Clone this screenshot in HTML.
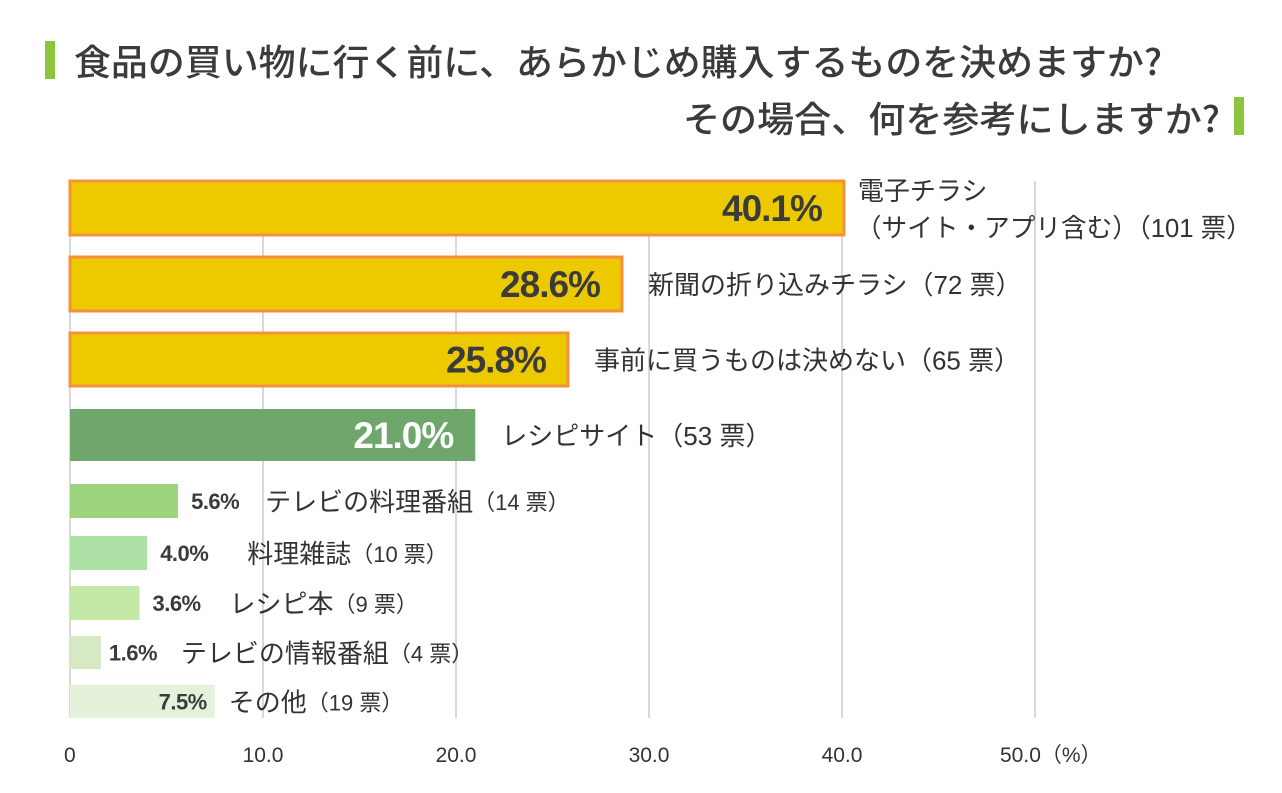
<!DOCTYPE html>
<html><head><meta charset="utf-8"><style>
html,body{margin:0;padding:0;background:#fff;}
svg{display:block;font-family:"Liberation Sans","Noto Sans CJK JP",sans-serif;}
</style></head><body>
<svg id="chart" width="1282" height="793">
<rect x="45" y="41" width="10" height="38" fill="#8cc63f"/>
<text x="74" y="75" font-size="36" font-weight="500" fill="#3b3b3b" textLength="1088" lengthAdjust="spacingAndGlyphs" font-family="Noto Sans CJK JP, sans-serif">食品の買い物に行く前に、あらかじめ購入するものを決めますか?</text>
<text x="683" y="132" font-size="36" font-weight="500" fill="#3b3b3b" textLength="537" lengthAdjust="spacingAndGlyphs" font-family="Noto Sans CJK JP, sans-serif">その場合、何を参考にしますか?</text>
<rect x="1234" y="97" width="10" height="38" fill="#8cc63f"/>
<g id="grid"></g><g id="bars"></g><g id="xaxis"></g>
</svg>
<script>
const categories=["電子チラシ","新聞の折り込みチラシ","事前に買うものは決めない","レシピサイト","テレビの料理番組","料理雑誌","レシピ本","テレビの情報番組","その他"];
const values=[40.1,28.6,25.8,21.0,5.6,4.0,3.6,1.6,7.5];
const votes=[101,72,65,53,14,10,9,4,19];
const ticks=[0,10,20,30,40,50];
const tickLabels=["0","10.0","20.0","30.0","40.0","50.0（%）"];
const x0=70,pxPer=19.3;
const X=v=>x0+v*pxPer;
const rowsTop=[181,257,333,409,484,536,586,636,685];
const rowsH=[54,54,53,52,34,34,34,33,33];
const fills=["#edca00","#edca00","#edca00","#6fa66b","#9ed47d","#aee1a6","#c4e8a8","#d6e8c4","#e4f2db"];
const NS="http://www.w3.org/2000/svg";
const g=document.getElementById('grid'),b=document.getElementById('bars'),ax=document.getElementById('xaxis');
function mk(tag,attrs,parent,txt){const e=document.createElementNS(NS,tag);for(const k in attrs)e.setAttribute(k,attrs[k]);if(txt!==undefined)e.textContent=txt;parent.appendChild(e);return e;}
ticks.forEach((t,i)=>{
 const l=mk('line',{x1:X(t),x2:X(t),y1:181,y2:718,stroke:'#d9d9d9','stroke-width':2},g);
 
 
 const tx=mk('text',{x:i==0?X(t)-6:X(t),y:762,'font-size':21,fill:'#333','text-anchor':i==0?'start':'middle'},ax,tickLabels[i]);
 
 
 if(i==5){tx.setAttribute('text-anchor','start');tx.setAttribute('x',X(t)-35);}
});
values.forEach((v,i)=>{
 const big=i<4,y=rowsTop[i],h=rowsH[i],w=X(v)-x0;
 const r=mk('rect',{x:x0,y:y,width:w,height:h,fill:fills[i]},b);
 if(i<3){r.setAttribute('stroke','#f4913a');r.setAttribute('stroke-width',3);}
 
 
 const cy=y+h/2;
 if(big){
  const p=mk('text',{x:X(v)-22,y:cy+13,'font-size':37,'font-weight':'bold',fill:i==3?'#fff':'#3b3b3b','text-anchor':'end','letter-spacing':'-1'},b,v.toFixed(1)+'%');
  
  
  let lx=X(v)+14;
  if(i==0){
   const a=mk('text',{x:lx,y:200,'font-size':26,fill:'#333'},b,categories[i]);
   
   
   const c=mk('text',{x:lx-2,y:237,'font-size':26,fill:'#333',textLength:396,lengthAdjust:'spacingAndGlyphs'},b,'（サイト・アプリ含む）（'+votes[i]+' 票）');
   
   
  }else{
   const a=mk('text',{x:X(v)+26,y:cy+10,'font-size':26,fill:'#333'},b,categories[i]+'（'+votes[i]+' 票）');
   
   
  }
 }else{
  const inside=i==8;
  const px=inside?X(v)-8:X(v)+(i==7?8:13);
  const p=mk('text',{x:px,y:cy+8,'font-size':22,'font-weight':'bold',fill:'#3b3b3b','text-anchor':inside?'end':'start','letter-spacing':'-0.5'},b,v.toFixed(1)+'%');
  
  
  const off=[0,0,0,0,87,100,90,80,14][i];
  const a=mk('text',{x:X(v)+off,y:cy+10,'font-size':26,fill:'#333'},b,categories[i]);
  
  
  const len=a.getComputedTextLength();
  const s=mk('text',{x:X(v)+off+len,y:cy+9,'font-size':22,fill:'#333'},b,'（'+votes[i]+' 票）');
  
  
 }
});
</script>
</body></html>
